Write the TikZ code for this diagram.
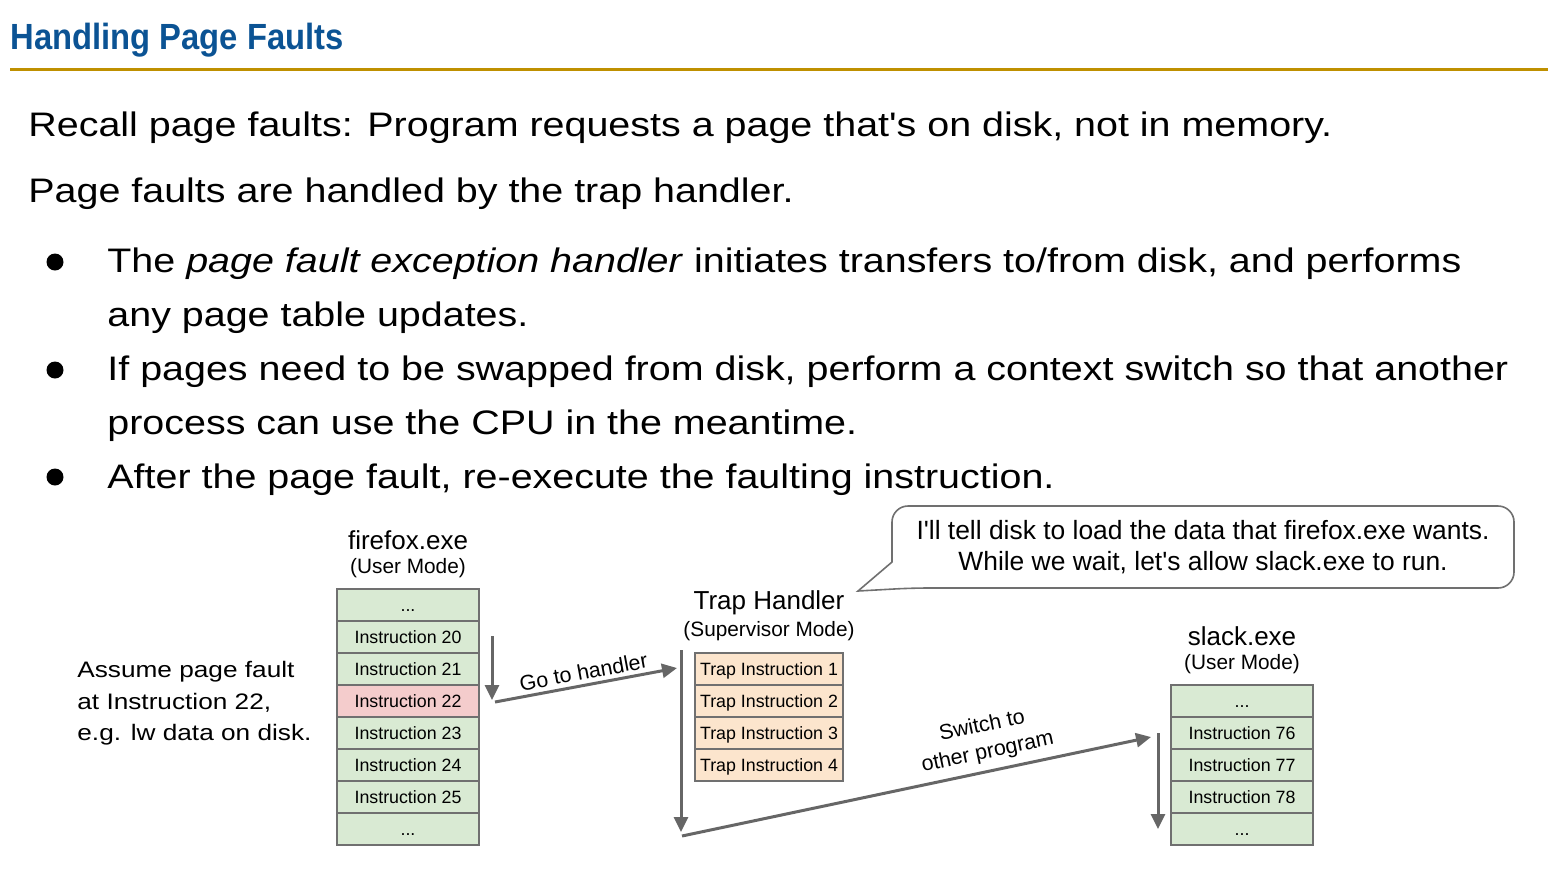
\documentclass[tikz,border=0pt]{standalone}
\usepackage{fontspec}
\setmainfont{Liberation Sans}
\newfontfamily\bodyf[FakeStretch=1.16]{Liberation Sans}
\newfontfamily\asmf[FakeStretch=1.17]{Liberation Sans}
\newfontfamily\titf[FakeStretch=0.9]{Liberation Sans}
\usetikzlibrary{arrows.meta}
\definecolor{titleblue}{HTML}{0B5394}
\definecolor{gold}{HTML}{BF9000}
\definecolor{cgreen}{HTML}{D9EAD3}
\definecolor{cpink}{HTML}{F4CCCC}
\definecolor{cpeach}{HTML}{FCE5CD}
\definecolor{gline}{HTML}{666666}
\definecolor{gbox}{HTML}{707070}
\tikzset{
  bodytext/.style={anchor=base west,inner sep=0pt,font=\bodyf\fontsize{17pt}{19pt}\selectfont},
  asmtext/.style={anchor=base west,inner sep=0pt,font=\asmf\fontsize{11.2pt}{13pt}\selectfont},
  bul/.style={circle,fill=black,inner sep=0pt,minimum size=8.5pt},
  cell/.style={draw=gbox,line width=0.9pt,minimum width=71pt,minimum height=16pt,inner sep=0pt,text height=6.4pt,text depth=0pt,font=\fontsize{8.9pt}{10pt}\selectfont},
  trapcell/.style={cell,minimum width=74pt,fill=cpeach},
  hdr/.style={inner sep=0pt,font=\fontsize{13pt}{15pt}\selectfont},
  mode/.style={inner sep=0pt,font=\fontsize{10.4pt}{12pt}\selectfont},
  arr/.style={draw=gline,line width=1.5pt,-{Triangle[length=7.5pt,width=7pt]}},
  lbl/.style={inner sep=1pt,font=\fontsize{10.7pt}{13.5pt}\selectfont,align=center},
}
\begin{document}
\begin{tikzpicture}[x=0.5pt,y=-0.5pt]
\useasboundingbox (0,0) rectangle (1550,885);
% title
\node[anchor=base west,inner sep=0pt,text=titleblue,font=\titf\bfseries\fontsize{18.2pt}{20pt}\selectfont] (title) at (10,49) {Handling Page Faults};
\coordinate (rl) at (10,69);
\coordinate (rr) at (1548,69);
\draw[gold,line width=1.5pt] (rl) -- (rr);
% body
\node[bodytext] (l1) at (28,136) {Recall page faults: Program requests a page that's on disk, not in memory.};
\node[bodytext] (l2) at (28,202) {Page faults are handled by the trap handler.};
\node[bul] (b1) at (55,262) {};
\node[bul] (b2) at (55,370) {};
\node[bul] (b3) at (55,477) {};
\node[bodytext] (l3) at (107,272) {The \textit{page fault exception handler} initiates transfers to/from disk, and performs};
\node[bodytext] (l4) at (107,326) {any page table updates.};
\node[bodytext] (l5) at (107,380) {If pages need to be swapped from disk, perform a context switch so that another};
\node[bodytext] (l6) at (107,434) {process can use the CPU in the meantime.};
\node[bodytext] (l7) at (107,488) {After the page fault, re-execute the faulting instruction.};
% assume text
\node[asmtext] (a1) at (77,677) {Assume page fault};
\node[asmtext] (a2) at (77,709) {at Instruction 22,};
\node[asmtext] (a3) at (77,740) {e.g. lw data on disk.};
% firefox
\node[hdr] (fxn) at (408,540) {firefox.exe};
\node[mode] (fxm) at (408,568) {(User Mode)};
\node[cell,fill=cgreen] (f0) at (408,605) {...};
\node[cell,fill=cgreen] (f1) at (408,637) {Instruction 20};
\node[cell,fill=cgreen] (f2) at (408,669) {Instruction 21};
\node[cell,fill=cpink]  (f3) at (408,701) {Instruction 22};
\node[cell,fill=cgreen] (f4) at (408,733) {Instruction 23};
\node[cell,fill=cgreen] (f5) at (408,765) {Instruction 24};
\node[cell,fill=cgreen] (f6) at (408,797) {Instruction 25};
\node[cell,fill=cgreen] (f7) at (408,829) {...};
% trap handler
\node[hdr] (thn) at (769,603) {Trap Handler};
\node[mode] (thm) at (769,631) {(Supervisor Mode)};
\node[trapcell] (t1) at (769,669) {Trap Instruction 1};
\node[trapcell] (t2) at (769,701) {Trap Instruction 2};
\node[trapcell] (t3) at (769,733) {Trap Instruction 3};
\node[trapcell] (t4) at (769,765) {Trap Instruction 4};
% slack
\node[hdr] (sln) at (1242,636) {slack.exe};
\node[mode] (slm) at (1242,664) {(User Mode)};
\node[cell,fill=cgreen] (s0) at (1242,701) {...};
\node[cell,fill=cgreen] (s1) at (1242,733) {Instruction 76};
\node[cell,fill=cgreen] (s2) at (1242,765) {Instruction 77};
\node[cell,fill=cgreen] (s3) at (1242,797) {Instruction 78};
\node[cell,fill=cgreen] (s4) at (1242,829) {...};
% arrows
\coordinate (p1) at (492,636);
\coordinate (p2) at (492,700);
\coordinate (p3) at (495,702);
\coordinate (p4) at (677,668);
\coordinate (p5) at (681,650);
\coordinate (p6) at (681,832);
\coordinate (p7) at (682,836);
\coordinate (p8) at (1151,737);
\coordinate (p9) at (1158,733);
\coordinate (p10) at (1158,829);
\draw[arr] (p1) -- (p2);
\draw[arr] (p3) -- node[lbl,sloped,above=1pt] (gl) {Go to handler} (p4);
\draw[arr] (p5) -- (p6);
\draw[arr] (p7) -- node[lbl,sloped,above=2.5pt,pos=0.66] (sl) {Switch to\\other program} (p8);
\draw[arr] (p9) -- (p10);
% callout
\draw[draw=gbox,line width=0.8pt,fill=white] (892,562) [rounded corners=8pt] -- (892,506) -- (1514,506) -- (1514,588) -- (912,588) [sharp corners] -- (858,591) -- cycle;
\node[inner sep=0pt,align=center,font=\fontsize{13.2pt}{15.5pt}\selectfont] (ct) at (1203,547) {I\textquotesingle ll tell disk to load the data that firefox.exe wants.\\While we wait, let\textquotesingle s allow slack.exe to run.};
\end{tikzpicture}
\end{document}
